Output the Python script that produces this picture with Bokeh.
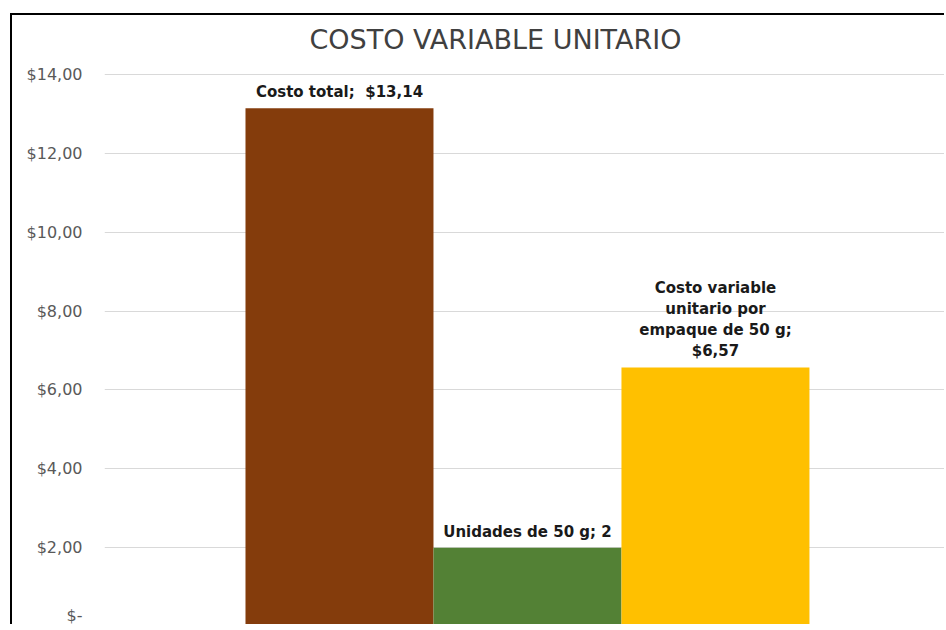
from bokeh.plotting import figure
from bokeh.models import Range1d, FixedTicker, ColumnDataSource
from bokeh.core.properties import value
from bokeh.embed import file_html
from bokeh.resources import INLINE

# ---- data ----
series_names = ["Costo total", "Unidades de 50 g", "Costo variable\nunitario por\nempaque de 50 g"]
series_values = [13.14, 2, 6.57]
value_labels = ["$13,14", "2", "$6,57"]
separators = [";\u00a0\u00a0", "; ", ";\n"]
bar_colors = ["#843C0C", "#538135", "#FFC000"]
tick_values = [0, 2, 4, 6, 8, 10, 12, 14]
tick_labels = ["$-", "$2,00", "$4,00", "$6,00", "$8,00", "$10,00", "$12,00", "$14,00"]
chart_title = "COSTO VARIABLE UNITARIO"

idx = list(range(len(series_values)))
labels = [n + s + v for n, s, v in zip(series_names, separators, value_labels)]
src = ColumnDataSource(dict(x=idx, top=series_values, color=bar_colors, label=labels))

FONT = "DejaVu Sans"

p = figure(width=934, height=611, output_backend="svg", toolbar_location=None,
           x_range=Range1d(-1.25, 3.229), y_range=Range1d(0, 14.354),
           min_border_left=92, min_border_right=0, min_border_top=44, min_border_bottom=0)
p.styles = {"border-left": "2px solid black", "border-top": "2px solid black",
            "margin-left": "10px", "margin-top": "13px"}

p.title.text = chart_title
p.title.align = "left"
p.title.offset = 205
p.title.standoff = 12
p.title.text_font = FONT
p.title.text_font_style = "normal"
p.title.text_font_size = "27px"
p.title.text_color = "#404040"

p.vbar(x="x", top="top", width=1.0, bottom=0, color="color", line_color=None, source=src)
p.text(x="x", y="top", text="label", source=src, text_align="center", text_baseline="bottom",
       y_offset=-7, text_font=value(FONT), text_font_style="bold", text_font_size="15px",
       text_color="#1a1a1a", text_line_height=1.17)

p.xaxis.visible = False
p.xgrid.grid_line_color = None
p.ygrid.grid_line_color = "#d9d9d9"
p.ygrid.grid_line_width = 1
p.outline_line_color = None

ya = p.yaxis[0]
ya.ticker = FixedTicker(ticks=tick_values)
ya.major_label_overrides = {t: l for t, l in zip(tick_values, tick_labels)}
ya.axis_line_color = None
ya.major_tick_line_color = None
ya.minor_tick_line_color = None
ya.major_tick_out = 0
ya.major_tick_in = 0
ya.major_label_text_font = FONT
ya.major_label_text_font_size = "16px"
ya.major_label_text_color = "#595959"
ya.major_label_standoff = 22

open("out.html", "w").write(file_html(p, INLINE))
